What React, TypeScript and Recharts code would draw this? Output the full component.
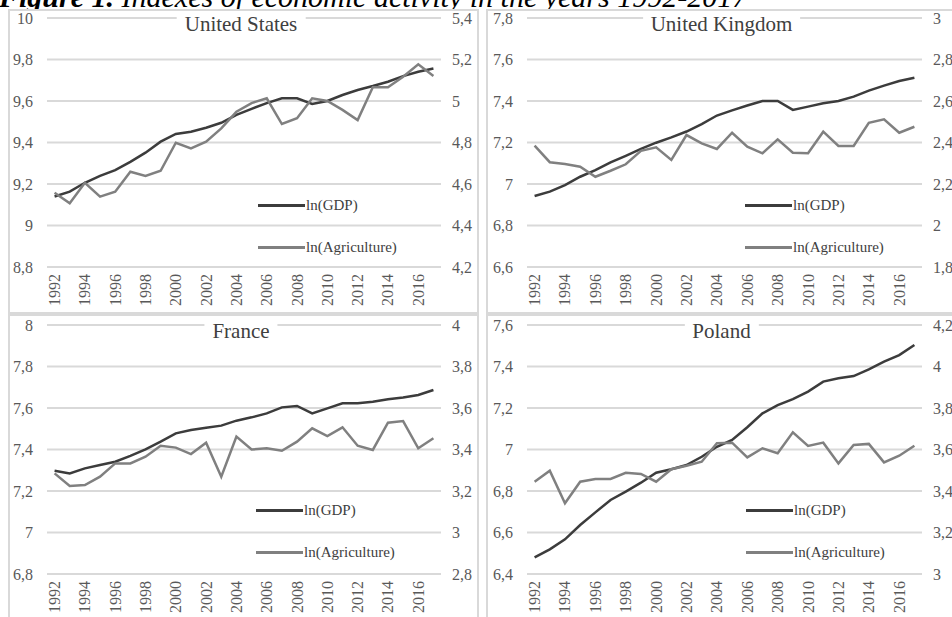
import React from 'react';
import { LineChart, Line, XAxis, YAxis, CartesianGrid, Legend } from 'recharts';

const years = [1992, 1993, 1994, 1995, 1996, 1997, 1998, 1999, 2000, 2001, 2002, 2003, 2004, 2005, 2006, 2007, 2008, 2009, 2010, 2011, 2012, 2013, 2014, 2015, 2016, 2017];
const yearTicks = [1992, 1994, 1996, 1998, 2000, 2002, 2004, 2006, 2008, 2010, 2012, 2014, 2016];
const boundaryTicks = [1991.5, 1993.5, 1995.5, 1997.5, 1999.5, 2001.5, 2003.5, 2005.5, 2007.5, 2009.5, 2011.5, 2013.5, 2015.5, 2017.5];

const usGdp = [9.14, 9.163, 9.206, 9.239, 9.267, 9.307, 9.351, 9.404, 9.441, 9.452, 9.471, 9.495, 9.533, 9.562, 9.59, 9.613, 9.613, 9.586, 9.6, 9.629, 9.653, 9.672, 9.693, 9.72, 9.741, 9.757];
const usAgri = [4.558, 4.507, 4.606, 4.539, 4.563, 4.659, 4.639, 4.664, 4.799, 4.772, 4.804, 4.868, 4.948, 4.99, 5.013, 4.889, 4.917, 5.013, 5.0, 4.957, 4.908, 5.066, 5.066, 5.117, 5.177, 5.12];
const usLeftTicks = [8.8, 9, 9.2, 9.4, 9.6, 9.8, 10];
const usRightTicks = [4.2, 4.4, 4.6, 4.8, 5, 5.2, 5.4];

const ukGdp = [6.942, 6.963, 6.995, 7.035, 7.067, 7.104, 7.136, 7.169, 7.199, 7.225, 7.253, 7.289, 7.33, 7.355, 7.378, 7.4, 7.4, 7.357, 7.373, 7.389, 7.4, 7.421, 7.45, 7.474, 7.496, 7.512];
const ukAgri = [2.385, 2.305, 2.296, 2.283, 2.235, 2.264, 2.295, 2.36, 2.377, 2.316, 2.436, 2.396, 2.369, 2.447, 2.38, 2.348, 2.415, 2.351, 2.348, 2.452, 2.383, 2.383, 2.495, 2.512, 2.447, 2.476];
const ukLeftTicks = [6.6, 6.8, 7, 7.2, 7.4, 7.6, 7.8];
const ukRightTicks = [1.8, 2, 2.2, 2.4, 2.6, 2.8, 3];

const frGdp = [7.298, 7.285, 7.309, 7.325, 7.341, 7.369, 7.401, 7.438, 7.478, 7.494, 7.505, 7.515, 7.539, 7.555, 7.574, 7.603, 7.61, 7.574, 7.598, 7.623, 7.623, 7.63, 7.642, 7.651, 7.663, 7.687];
const frAgri = [3.285, 3.224, 3.229, 3.269, 3.333, 3.333, 3.365, 3.418, 3.409, 3.378, 3.433, 3.269, 3.462, 3.4, 3.406, 3.394, 3.438, 3.502, 3.465, 3.507, 3.418, 3.398, 3.529, 3.537, 3.406, 3.454];
const frLeftTicks = [6.8, 7, 7.2, 7.4, 7.6, 7.8, 8];
const frRightTicks = [2.8, 3, 3.2, 3.4, 3.6, 3.8, 4];

const plGdp = [6.48, 6.519, 6.567, 6.636, 6.697, 6.757, 6.797, 6.84, 6.888, 6.905, 6.925, 6.965, 7.013, 7.046, 7.107, 7.174, 7.214, 7.243, 7.279, 7.327, 7.343, 7.354, 7.386, 7.423, 7.455, 7.504];
const plAgri = [3.445, 3.498, 3.341, 3.445, 3.458, 3.458, 3.488, 3.482, 3.445, 3.505, 3.522, 3.541, 3.63, 3.633, 3.562, 3.606, 3.582, 3.683, 3.617, 3.633, 3.533, 3.622, 3.627, 3.538, 3.57, 3.618];
const plLeftTicks = [6.4, 6.6, 6.8, 7, 7.2, 7.4, 7.6];
const plRightTicks = [3, 3.2, 3.4, 3.6, 3.8, 4, 4.2];

const seriesNames = ['ln(GDP)', 'ln(Agriculture)'];

const FONT = "'Liberation Serif', 'Times New Roman', serif";
const GRID = '#d9d9d9';
const GDP_COLOR = '#3c3c3c';
const AGRI_COLOR = '#808080';
const AXIS_TEXT = '#595959';
const PLOT_H = 249;

function fmt(v: number) {
  return String(Math.round(v * 10) / 10).replace('.', ',');
}

function YearTick(props: any) {
  const { x, y, payload } = props;
  const ty = y + 7;
  return (
    <text x={x} y={ty} transform={`rotate(-90, ${x}, ${ty})`} textAnchor="end" dominantBaseline="central"
      fill={AXIS_TEXT} fontSize={16} fontFamily={FONT}>
      {payload.value}
    </text>
  );
}

function MarkTick(props: any) {
  const { x, y } = props;
  return <line x1={x} x2={x} y1={y - 5} y2={y + 5} stroke={GRID} strokeWidth={2} />;
}

function LegendBox(props: any) {
  const items = [...(props.payload || [])].sort(
    (a: any, b: any) => seriesNames.indexOf(a.value) - seriesNames.indexOf(b.value)
  );
  return (
    <div style={{ fontFamily: FONT, fontSize: 15, color: '#404040' }}>
      {items.map((p: any) => (
        <div key={p.value} style={{ height: 42, display: 'flex', alignItems: 'center', whiteSpace: 'nowrap' }}>
          <span style={{ display: 'inline-block', width: 47, height: 3, background: p.color, marginRight: 1 }} />
          <span>{p.value}</span>
        </div>
      ))}
    </div>
  );
}

type PanelProps = {
  title: string;
  left: number;
  top: number;
  outerH: number;
  plotLeft: number;
  rightW: number;
  plotTop: number;
  gdp: number[];
  agri: number[];
  leftTicks: number[];
  rightTicks: number[];
  legendX: number;
};

function Panel(p: PanelProps) {
  const W = 467;
  const H = p.outerH - 4;
  const xAxisH = H - p.plotTop - PLOT_H;
  const data = years.map((year, i) => ({ year, gdp: p.gdp[i], agri: p.agri[i] }));
  const plotW = W - p.plotLeft - p.rightW;
  const tickStyle = { fill: AXIS_TEXT, fontSize: 16, fontFamily: FONT };
  return (
    <div style={{ position: 'absolute', left: p.left, top: p.top, width: 471, height: p.outerH, border: `2px solid ${GRID}`, boxSizing: 'border-box', background: '#fff' }}>
      <LineChart width={W} height={H} data={data} margin={{ top: p.plotTop, right: 0, bottom: 0, left: 0 }}>
        <CartesianGrid xAxisId="years" yAxisId="left" vertical={false} stroke={GRID} strokeWidth={2} />
        <XAxis xAxisId="marks" dataKey="year" type="number" domain={[1991.5, 2017.5]} ticks={boundaryTicks}
          height={0} tickSize={0} tickMargin={0} tick={<MarkTick />} tickLine={false}
          axisLine={{ stroke: GRID, strokeWidth: 2 }} allowDataOverflow interval={0} />
        <XAxis xAxisId="years" dataKey="year" type="number" domain={[1991.5, 2017.5]} ticks={yearTicks}
          height={xAxisH} tickSize={0} tickMargin={0} tick={<YearTick />} tickLine={false}
          axisLine={false} allowDataOverflow interval={0} />
        <YAxis yAxisId="left" type="number" width={p.plotLeft} domain={[p.leftTicks[0], p.leftTicks[p.leftTicks.length - 1]]}
          ticks={p.leftTicks} tickFormatter={fmt} axisLine={false} tickLine={false} tickSize={0} tickMargin={14}
          tick={tickStyle} interval={0} allowDataOverflow />
        <YAxis yAxisId="right" orientation="right" type="number" width={p.rightW} domain={[p.rightTicks[0], p.rightTicks[p.rightTicks.length - 1]]}
          ticks={p.rightTicks} tickFormatter={fmt} axisLine={false} tickLine={false} tickSize={0} tickMargin={11}
          tick={{ ...tickStyle, textAnchor: 'start' }} interval={0} allowDataOverflow />
        <Line xAxisId="years" yAxisId="left" type="linear" dataKey="gdp" name={seriesNames[0]} stroke={GDP_COLOR}
          strokeWidth={2.5} dot={false} activeDot={false} isAnimationActive={false} />
        <Line xAxisId="years" yAxisId="right" type="linear" dataKey="agri" name={seriesNames[1]} stroke={AGRI_COLOR}
          strokeWidth={2.5} dot={false} activeDot={false} isAnimationActive={false} />
        <Legend layout="vertical" align="center" verticalAlign="middle" content={<LegendBox />}
          wrapperStyle={{ left: p.legendX, top: 173, width: 220, height: 84 }} />
      </LineChart>
      <div style={{
        position: 'absolute', left: p.plotLeft + plotW / 2 - 3, top: p.plotTop - 6, transform: 'translateX(-50%)',
        background: '#fff', padding: '0 8px', fontFamily: FONT, fontSize: 21, lineHeight: '24px', color: '#404040', whiteSpace: 'nowrap'
      }}>
        {p.title}
      </div>
    </div>
  );
}

export default function App() {
  return (
    <div style={{ position: 'absolute', left: 0, top: 0, width: 952, height: 617, overflow: 'hidden', background: '#fff' }}>
      <div style={{ position: 'absolute', left: -1, top: -18, fontFamily: FONT, fontSize: 30, lineHeight: '30px', fontStyle: 'italic', color: '#000', whiteSpace: 'nowrap' }}>
        <b>Figure 1.</b> Indexes of economic activity in the years 1992-2017
      </div>
      <Panel title="United States" left={8} top={9} outerH={305} plotLeft={37} rightW={36} plotTop={7}
        gdp={usGdp} agri={usAgri} leftTicks={usLeftTicks} rightTicks={usRightTicks} legendX={248} />
      <Panel title="United Kingdom" left={486} top={9} outerH={305} plotLeft={39} rightW={33} plotTop={7}
        gdp={ukGdp} agri={ukAgri} leftTicks={ukLeftTicks} rightTicks={ukRightTicks} legendX={257} />
      <Panel title="France" left={8} top={314} outerH={306} plotLeft={37} rightW={36} plotTop={9}
        gdp={frGdp} agri={frAgri} leftTicks={frLeftTicks} rightTicks={frRightTicks} legendX={246} />
      <Panel title="Poland" left={486} top={314} outerH={306} plotLeft={39} rightW={33} plotTop={9}
        gdp={plGdp} agri={plAgri} leftTicks={plLeftTicks} rightTicks={plRightTicks} legendX={258} />
    </div>
  );
}
